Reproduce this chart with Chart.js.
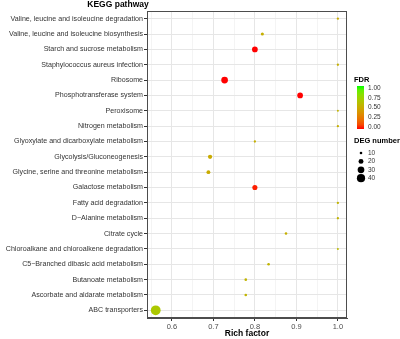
<!DOCTYPE html>
<html>
<head>
<meta charset="utf-8">
<script src="https://cdn.jsdelivr.net/npm/chart.js@4.4.1/dist/chart.umd.min.js"></script>
<style>
  html, body { margin: 0; padding: 0; background: #fff; }
  #wrap { width: 400px; height: 339px; position: relative; }
</style>
</head>
<body>
<div id="wrap"><canvas id="kegg"></canvas></div>
<script>
// KEGG enrichment data
const pathways = [
  "Valine, leucine and isoleucine degradation",
  "Valine, leucine and isoleucine biosynthesis",
  "Starch and sucrose metabolism",
  "Staphylococcus aureus infection",
  "Ribosome",
  "Phosphotransferase system",
  "Peroxisome",
  "Nitrogen metabolism",
  "Glyoxylate and dicarboxylate metabolism",
  "Glycolysis/Gluconeogenesis",
  "Glycine, serine and threonine metabolism",
  "Galactose metabolism",
  "Fatty acid degradation",
  "D\u2212Alanine metabolism",
  "Citrate cycle",
  "Chloroalkane and chloroalkene degradation",
  "C5\u2212Branched dibasic acid metabolism",
  "Butanoate metabolism",
  "Ascorbate and aldarate metabolism",
  "ABC transporters"
];
const richFactor = [1.0, 0.818, 0.8, 1.0, 0.727, 0.909, 1.0, 1.0, 0.8, 0.692,
                    0.688, 0.8, 1.0, 1.0, 0.875, 1.0, 0.833, 0.778, 0.778, 0.561];
const fdr = [0.5, 0.52, 0.0, 0.52, 0.0, 0.0, 0.55, 0.52, 0.52, 0.5,
             0.5, 0.02, 0.55, 0.55, 0.52, 0.58, 0.55, 0.55, 0.55, 0.66];
const degNumber = [9, 12, 24, 9, 30, 24, 8, 9, 9, 17,
                   15, 21, 9, 9, 10, 8, 10, 10, 10, 52];

const xTicks = [0.6, 0.7, 0.8, 0.9, 1.0];
const xMinor = [0.55, 0.65, 0.75, 0.85, 0.95];
const fdrTicks = [1.00, 0.75, 0.50, 0.25, 0.00];
const degTicks = [10, 20, 30, 40];

// ggplot-like red -> green gradient, interpolated in CIELAB
function toLin(c) { c /= 255; return c <= 0.04045 ? c / 12.92 : Math.pow((c + 0.055) / 1.055, 2.4); }
function fromLin(c) { c = c <= 0.0031308 ? 12.92 * c : 1.055 * Math.pow(c, 1 / 2.4) - 0.055; return Math.max(0, Math.min(255, Math.round(c * 255))); }
function rgb2lab(r, g, b) {
  r = toLin(r); g = toLin(g); b = toLin(b);
  let x = (0.4124 * r + 0.3576 * g + 0.1805 * b) / 0.95047;
  let y = (0.2126 * r + 0.7152 * g + 0.0722 * b);
  let z = (0.0193 * r + 0.1192 * g + 0.9505 * b) / 1.08883;
  const f = t => t > 0.008856 ? Math.cbrt(t) : 7.787 * t + 16 / 116;
  x = f(x); y = f(y); z = f(z);
  return [116 * y - 16, 500 * (x - y), 200 * (y - z)];
}
function lab2rgb(L, a, bb) {
  let y = (L + 16) / 116, x = a / 500 + y, z = y - bb / 200;
  const fi = t => t * t * t > 0.008856 ? t * t * t : (t - 16 / 116) / 7.787;
  x = fi(x) * 0.95047; y = fi(y); z = fi(z) * 1.08883;
  const r = 3.2406 * x - 1.5372 * y - 0.4986 * z;
  const g = -0.9689 * x + 1.8758 * y + 0.0415 * z;
  const b = 0.0557 * x - 0.2040 * y + 1.0570 * z;
  return "rgb(" + fromLin(r) + "," + fromLin(g) + "," + fromLin(b) + ")";
}
const labLow = rgb2lab(255, 0, 0), labHigh = rgb2lab(0, 255, 0);
function fdrColor(v) {
  return lab2rgb(labLow[0] + (labHigh[0] - labLow[0]) * v,
                 labLow[1] + (labHigh[1] - labLow[1]) * v,
                 labLow[2] + (labHigh[2] - labLow[2]) * v);
}
// area scaling of point size
const degMin = 8, degMax = 52;
function degRadius(d) {
  return 1.0 + (Math.sqrt(d) - Math.sqrt(degMin)) / (Math.sqrt(degMax) - Math.sqrt(degMin)) * 3.9;
}

const points = pathways.map((p, i) => ({ x: richFactor[i], y: p, r: degRadius(degNumber[i]) }));

const FONT = "'Liberation Sans', Arial, sans-serif";

// title, panel border and the two legends
const extras = {
  id: 'extras',
  beforeDatasetsDraw(chart) {
    const { ctx, chartArea: a } = chart;
    ctx.save();
    ctx.strokeStyle = '#4d4d4d';
    ctx.lineWidth = 1;
    ctx.strokeRect(a.left + 0.5, a.top + 0.5, a.right - a.left - 1, a.bottom - a.top - 1);
    ctx.restore();
  },
  afterDraw(chart) {
    const { ctx, chartArea: a } = chart;
    ctx.save();
    ctx.fillStyle = '#000';
    ctx.font = 'bold 8.5px ' + FONT;
    ctx.textAlign = 'center';
    ctx.textBaseline = 'middle';
    ctx.fillText('KEGG pathway', 118, 5);

    // FDR colour bar
    const lx = a.right + 7;
    ctx.textAlign = 'left';
    ctx.font = 'bold 7.5px ' + FONT;
    ctx.fillText('FDR', lx, 80);
    const barTop = 86, barBot = 129, barX = lx + 3, barW = 7;
    const grad = ctx.createLinearGradient(0, barBot, 0, barTop);
    for (let s = 0; s <= 10; s++) grad.addColorStop(s / 10, fdrColor(s / 10));
    ctx.fillStyle = grad;
    ctx.fillRect(barX, barTop, barW, barBot - barTop);
    ctx.font = '6.5px ' + FONT;
    ctx.fillStyle = '#333';
    fdrTicks.forEach(t => {
      const y = barBot - 2 - t * (barBot - barTop - 4);
      ctx.fillText(t.toFixed(2), barX + barW + 4, y);
    });

    // DEG number size legend
    ctx.fillStyle = '#000';
    ctx.font = 'bold 7.5px ' + FONT;
    ctx.fillText('DEG number', lx, 141);
    ctx.font = '6.5px ' + FONT;
    degTicks.forEach((d, i) => {
      const y = 153 + i * 8.4;
      ctx.fillStyle = '#000';
      ctx.beginPath();
      ctx.arc(barX + 4, y, degRadius(d), 0, Math.PI * 2);
      ctx.fill();
      ctx.fillStyle = '#333';
      ctx.fillText(String(d), barX + 11, y);
    });
    ctx.restore();
  }
};

new Chart(document.getElementById('kegg'), {
  type: 'bubble',
  data: {
    labels: pathways,
    datasets: [{
      data: points,
      backgroundColor: pathways.map((p, i) => fdrColor(fdr[i])),
      borderWidth: 0,
      hoverBorderWidth: 0
    }]
  },
  options: {
    responsive: true,
    maintainAspectRatio: false,
    animation: false,
    layout: { padding: { top: 11, right: 53, left: 0, bottom: 0 } },
    plugins: { legend: { display: false }, tooltip: { enabled: false } },
    scales: {
      x: {
        type: 'linear',
        min: 0.54,
        max: 1.022,
        afterBuildTicks: (s) => { s.ticks = xMinor.concat(xTicks).map(v => ({ value: v })); },
        afterFit: (s) => { s.height = 21; },
        ticks: {
          font: { family: FONT, size: 7.5 },
          color: '#4d4d4d',
          padding: 1,
          maxRotation: 0,
          autoSkip: false,
          callback: (v) => xTicks.includes(v) ? v.toFixed(1) : ''
        },
        grid: {
          color: (c) => xTicks.includes(c.tick && c.tick.value) ? '#e6e6e6' : '#f4f4f4',
          tickColor: (c) => xTicks.includes(c.tick && c.tick.value) ? '#333' : 'rgba(0,0,0,0)',
          tickLength: 3
        },
        border: { color: '#4d4d4d' },
        title: {
          display: true,
          text: 'Rich factor',
          font: { family: FONT, size: 8.5, weight: 'bold' },
          color: '#000',
          padding: { top: 1, bottom: 0 }
        }
      },
      y: {
        type: 'category',
        labels: pathways,
        offset: true,
        afterFit: (s) => { s.width = 147; },
        ticks: {
          font: { family: FONT, size: 7.1 },
          color: '#333',
          padding: 1,
          autoSkip: false
        },
        grid: { color: '#e6e6e6', tickColor: '#333', tickLength: 3 },
        border: { color: '#4d4d4d' }
      }
    }
  },
  plugins: [extras]
});
</script>
</body>
</html>
